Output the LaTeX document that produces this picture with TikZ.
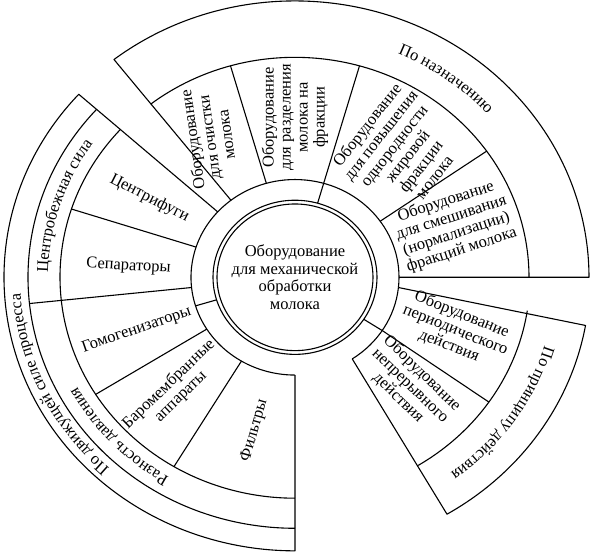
\documentclass[tikz,border=0pt]{standalone}
\usepackage{fontspec}
\setmainfont{Liberation Serif}
\usetikzlibrary{decorations.text}

\newcommand{\txtsize}{\fontsize{16.5}{17}\selectfont}

\begin{document}
\begin{tikzpicture}[
    x=1pt, y=1pt, yscale=0.94,
    line width=1.1pt, line join=round,
    lbl/.style={align=center, font=\txtsize, inner sep=0pt},
    ringtxt/.style={decorate, decoration={text along path, text align=center, text={|\txtsize|#1}}}
]
\useasboundingbox (-295,-300) rectangle (297,295);

% ================= Central circle =================
\node[lbl, font=\fontsize{16.5}{17.5}\selectfont] (core) at (0,0) {Оборудование\\для механической\\обработки\\молока};
\draw (0,0) circle[radius=82];
\draw (0,0) circle[radius=78];
\draw (-6:104) arc[start angle=-6, end angle=270, radius=104];
\draw (74:82) -- (74:104);
\draw (197:82) -- (197:104);
\draw (-33:82) -- (-33:104);

% ================= По назначению =================
\draw (128:104) -- (128:294) arc[start angle=128, end angle=0, radius=294] -- (0:104);
\draw (128:234) arc[start angle=128, end angle=0, radius=234];
\foreach \a in {106, 74, 35}
    \draw (\a:104) -- (\a:234);

\node[lbl, rotate=98] (clean) at (120:172) {Оборудование\\для очистки\\молока};
\node[lbl, rotate=90] (split) at (90:170) {Оборудование\\для разделения\\молока на\\фракции};
\node[lbl, rotate=52] (homog) at (52:171) {Оборудование\\для повышения\\однородности\\жировой\\фракции\\молока};
\node[lbl, rotate=18] (mix) at (19:168) {Оборудование\\для смешивания\\(нормализации)\\фракций молока};
\path[ringtxt={По назначению}] (84:259) arc[start angle=84, end angle=24, radius=259];

% ================= По движущей силе процесса =================
\draw (138:104) -- (138:291) arc[start angle=138, end angle=270, radius=291] -- (270:104);
\draw (138:267) arc[start angle=138, end angle=270, radius=267];
\draw (138:235) arc[start angle=138, end angle=270, radius=235];
\draw (186:104) -- (186:267);
\foreach \a in {162, 212, 239}
    \draw (\a:104) -- (\a:235);

\node[lbl, rotate=-27] (centrif) at (150:168) {Центрифуги};
\node[lbl, rotate=-3] (separ) at (176:167) {Сепараторы};
\node[lbl, rotate=19] (homogen) at (199.5:168) {Гомогенизаторы};
\node[lbl, rotate=44] (membr) at (225:170) {Баромембранные\\аппараты};
\node[lbl, rotate=74] (filter) at (256:168) {Фильтры};
\path[ringtxt={Центробежная сила}] (192:247) arc[start angle=192, end angle=132, radius=247];
\path[ringtxt={Разность давления}] (268:247) arc[start angle=268, end angle=178, radius=247];
\path[ringtxt={По движущей силе процесса}] (255:275) arc[start angle=255, end angle=155, radius=275];

% ================= По принципу действия =================
\draw (-56.6:104) arc[start angle=-56.6, end angle=-6, radius=104];
\draw (-6:104) -- (-10:295) arc[start angle=-10, end angle=-59.2, radius=293] -- (-56.6:104);
\draw (-8.7:235) arc[start angle=-8.7, end angle=-58.4, radius=235];
\draw (-33:104) -- (-34.4:235);

\node[lbl, rotate=-22] (batch) at (-19.3:170) {Оборудование\\периодического\\действия};
\node[lbl, rotate=-44] (contin) at (-45:163) {Оборудование\\непрерывного\\действия};
\path[ringtxt={По принципу действия}] (-4.5:260) arc[start angle=-4.5, end angle=-64.5, radius=260];

\end{tikzpicture}
\end{document}
